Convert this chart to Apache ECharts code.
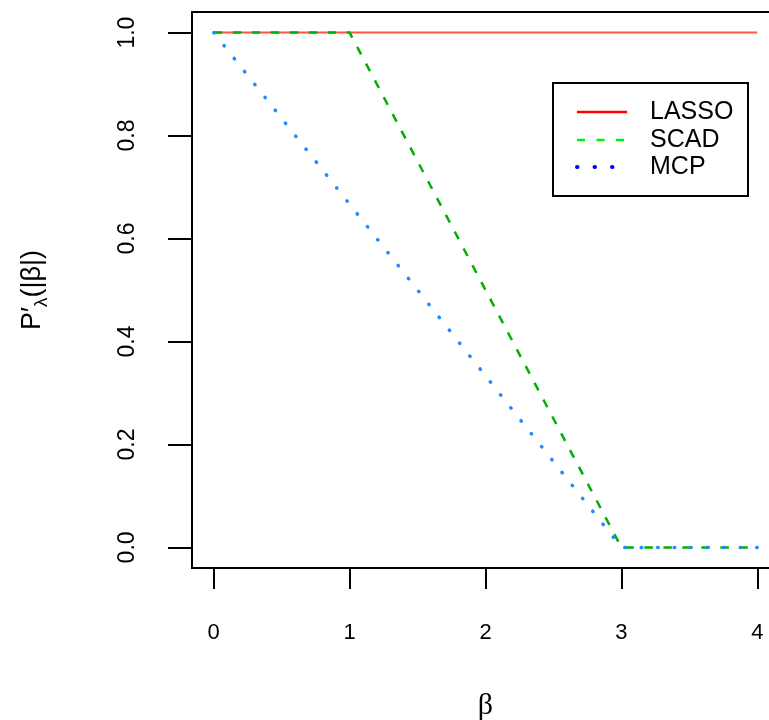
<!DOCTYPE html>
<html>
<head>
<meta charset="utf-8">
<script src="https://cdn.jsdelivr.net/npm/echarts@6/dist/echarts.min.js"></script>
<style>
html,body{margin:0;padding:0;background:#fff;}
#chart{width:769px;height:720px;}
</style>
</head>
<body>
<div id="chart"></div>
<script>
// ---- data ----
const seriesNames = ['LASSO', 'SCAD', 'MCP'];
const lassoBeta = [0, 4];
const lassoVals = [1, 1];
const scadBeta = [0, 1, 3, 4];
const scadVals = [1, 1, 0, 0];
const mcpBeta = [0, 3, 4];
const mcpVals = [1, 0, 0];
const xTicks = [0, 1, 2, 3, 4];
const yTicks = [0, 0.2, 0.4, 0.6, 0.8, 1.0];

function pairs(xs, ys) { return xs.map((x, i) => [x, ys[i]]); }

const FONT = 'Liberation Sans, Arial, Helvetica, sans-serif';
const chart = echarts.init(document.getElementById('chart'), null, {renderer: 'canvas'});

// legend (drawn with graphic elements)
const legX0 = 577, legX1 = 627, legTextX = 650;
const legRows = [112, 140, 167];
const legStyles = [
  {stroke: '#ff0000', lineWidth: 2.5},
  {stroke: '#00ee00', lineWidth: 2.5, lineDash: [8, 11.5]},
  {stroke: '#0000ff', lineWidth: 4, lineDash: [0.5, 17], lineCap: 'round'}
];
const legendGraphics = [{
  type: 'rect', shape: {x: 553, y: 83, width: 195, height: 113},
  style: {fill: '#fff', stroke: '#000', lineWidth: 2}, z: 100
}];
seriesNames.forEach((n, i) => {
  legendGraphics.push({
    type: 'line', shape: {x1: legX0, y1: legRows[i], x2: legX1, y2: legRows[i]},
    style: Object.assign({fill: null}, legStyles[i]), z: 101
  });
  legendGraphics.push({
    type: 'text', x: legTextX, y: legRows[i],
    style: {text: n, font: '25px ' + FONT, fill: '#000', textVerticalAlign: 'middle', textAlign: 'left'},
    z: 101
  });
});

const option = {
  animation: false,
  backgroundColor: '#fff',
  grid: {
    left: 192, top: 12, width: 587, height: 556,
    show: true, borderColor: '#000', borderWidth: 2, backgroundColor: 'transparent',
    containLabel: false, outerBoundsMode: 'none'
  },
  xAxis: {
    type: 'value', min: -0.16, max: 4.16,
    axisLine: {show: false, onZero: false},
    axisTick: {show: true, customValues: xTicks, length: 21, lineStyle: {color: '#000', width: 2}},
    axisLabel: {show: true, customValues: xTicks, margin: 54, fontSize: 22, color: '#000', fontFamily: FONT,
      formatter: v => String(v)},
    splitLine: {show: false},
    name: 'β', nameLocation: 'middle', nameGap: 123,
    nameTextStyle: {fontSize: 30, color: '#000', fontFamily: 'Liberation Serif, DejaVu Serif, serif'}
  },
  yAxis: {
    type: 'value', min: -0.04, max: 1.04,
    axisLine: {show: false, onZero: false},
    axisTick: {show: true, customValues: yTicks, length: 24, lineStyle: {color: '#000', width: 2}},
    axisLabel: {show: true, customValues: yTicks, margin: 53, rotate: 90, fontSize: 23, color: '#000', fontFamily: FONT,
      formatter: v => v.toFixed(1)},
    splitLine: {show: false},
    name: '{a|P′}{s|λ}{a|(|β|)}', nameLocation: 'middle', nameGap: 146, nameRotate: 90,
    nameTextStyle: {
      color: '#000', fontFamily: FONT,
      rich: {
        a: {fontSize: 27, fontFamily: FONT, color: '#000', lineHeight: 27, verticalAlign: 'top'},
        s: {fontSize: 19, fontFamily: FONT, color: '#000', lineHeight: 19, verticalAlign: 'top', padding: [13, 0, 0, 0]}
      }
    }
  },
  series: [
    {
      name: seriesNames[0], type: 'line', data: pairs(lassoBeta, lassoVals), showSymbol: false,
      lineStyle: {color: '#ff5548', width: 2}, z: 2
    },
    {
      name: seriesNames[1], type: 'line', data: pairs(scadBeta, scadVals), showSymbol: false,
      lineStyle: {color: '#00b000', width: 2.5, type: [8.5, 10.5]}, z: 3
    },
    {
      name: seriesNames[2], type: 'line', data: pairs(mcpBeta, mcpVals), showSymbol: false,
      lineStyle: {color: '#1e8cff', width: 3.5, type: [0.5, 16], cap: 'round'}, z: 4
    }
  ],
  graphic: legendGraphics
};
chart.setOption(option);
</script>
</body>
</html>
